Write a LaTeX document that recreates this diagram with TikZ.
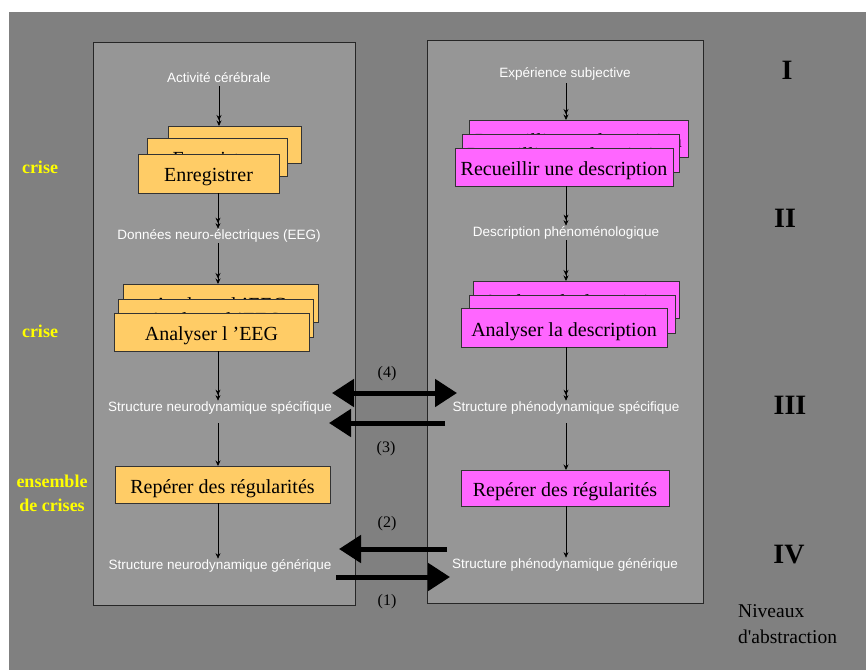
\documentclass[tikz,border=0pt]{standalone}
\usepackage{fontspec}
\setmainfont{Liberation Serif}
\newfontfamily\arialf{Liberation Sans}
\newfontfamily\plainserif{Liberation Serif}[Ligatures=TeXOff]
\usetikzlibrary{arrows.meta}
\definecolor{bgout}{RGB}{128,128,128}
\definecolor{bgpanel}{RGB}{150,150,150}
\definecolor{orangebox}{RGB}{255,204,102}
\definecolor{magbox}{RGB}{255,102,255}
\definecolor{crisey}{RGB}{255,255,0}
\newcommand{\bxt}[1]{\raisebox{-4pt}[\height][\depth]{#1}}
\begin{document}
\begin{tikzpicture}[x=1pt,y=-1pt,
  wlabel/.style={text=white,font=\arialf\fontsize{13.5}{15}\selectfont,inner sep=1pt,outer sep=0pt,yshift=-2pt},
  boxbase/.style={draw=black!80,line width=0.8pt,font=\fontsize{20}{22}\selectfont,inner sep=0pt,outer sep=0pt},
  obox/.style={boxbase,fill=orangebox},
  mbox/.style={boxbase,fill=magbox},
  panel/.style={draw=black!85,line width=0.8pt,fill=bgpanel},
  sarr/.style={line width=0.7pt,-{Stealth[length=5.5pt,width=5pt]Stealth[length=5.5pt,width=5pt]}},
  tarr/.style={line width=0.7pt,-{Stealth[length=5.5pt,width=5pt]}},
  barr/.style={line width=5pt,-{Triangle[length=22pt,width=27pt]}},
  bdarr/.style={line width=5pt,{Triangle[length=22pt,width=27pt]}-{Triangle[length=22pt,width=27pt]}},
  numlbl/.style={font=\fontsize{16}{18}\selectfont,text=black},
  roman/.style={font=\bfseries\fontsize{28}{30}\selectfont,text=black},
  crisel/.style={font=\bfseries\fontsize{18}{20}\selectfont,text=crisey,align=center},
]
\useasboundingbox (0,0) rectangle (866,670);
\fill[white] (0,0) rectangle (866,670);
\fill[bgout] (9,12) rectangle (866,670);
% panels
\draw[panel] (93,42) rectangle (355,605);
\draw[panel] (427,40) rectangle (703,603);

% ---------------- left column
\node[wlabel] (la) at (219,76) {Activité cérébrale};
\node[obox,minimum width=133pt,minimum height=37pt] (encC) at (234.5,144.5) {\bxt{Enregistrer}};
\node[obox,minimum width=140pt,minimum height=38pt] (encB) at (217,157) {\bxt{Enregistrer}};
\node[obox,minimum width=141pt,minimum height=39pt] (encA) at (208.5,173.5) {\bxt{Enregistrer}};
\node[wlabel] (lb) at (219,234) {Données neuro-électriques (EEG)};
\node[obox,minimum width=195pt,minimum height=38pt] (aeC) at (220.5,303) {\bxt{Analyser l ’EEG}};
\node[obox,minimum width=195pt,minimum height=38pt] (aeB) at (215.5,318) {\bxt{Analyser l ’EEG}};
\node[obox,minimum width=195pt,minimum height=38pt] (aeA) at (211.5,332) {\bxt{Analyser l ’EEG}};
\node[wlabel] (lc) at (220,406) {Structure neurodynamique spécifique};
\node[obox,minimum width=215pt,minimum height=37pt] (rl) at (222.5,484.5) {\bxt{Repérer des régularités}};
\node[wlabel] (ld) at (220,564) {Structure neurodynamique générique};

\draw[sarr] (la.south) ++(0,2) coordinate (t1) -- (t1 |- encC.north);
\draw[sarr] (218,0 |- encA.south) -- (218,0 |- lb.north);
\draw[sarr] (218,0 |- lb.south) -- (218,0 |- aeC.north);
\draw[sarr] (218,0 |- aeA.south) -- (218,0 |- lc.north);
\draw[tarr] (218,0 |- lc.south) ++(0,8) -- (218,0 |- rl.north);
\draw[tarr] (218,0 |- rl.south) -- (218,0 |- ld.north);

% ---------------- right column
\node[wlabel] (ra) at (565,72) {Expérience subjective};
\node[mbox,minimum width=219pt,minimum height=37pt] (recC) at (578.5,138.5) {\bxt{Recueillir une description}};
\node[mbox,minimum width=217pt,minimum height=38pt] (recB) at (570.5,153) {\bxt{Recueillir une description}};
\node[mbox,minimum width=218pt,minimum height=38pt] (recA) at (564,167) {\bxt{Recueillir une description}};
\node[wlabel] (rb) at (566,231) {Description phénoménologique};
\node[mbox,minimum width=206pt,minimum height=37pt] (adC) at (576,299.5) {\bxt{Analyser la description}};
\node[mbox,minimum width=206pt,minimum height=38pt] (adB) at (572,314) {\bxt{Analyser la description}};
\node[mbox,minimum width=206pt,minimum height=39pt] (adA) at (564,327.5) {\bxt{Analyser la description}};
\node[wlabel] (rc) at (566,406) {Structure phénodynamique spécifique};
\node[mbox,minimum width=208pt,minimum height=36pt] (rr) at (565,488) {\bxt{Repérer des régularités}};
\node[wlabel] (rd) at (565,563) {Structure phénodynamique générique};

\draw[sarr] (566,0 |- ra.south) ++(0,2) -- (566,0 |- recC.north);
\draw[sarr] (566,0 |- recA.south) -- (566,0 |- rb.north);
\draw[sarr] (566,0 |- rb.south) -- (566,0 |- adC.north);
\draw[sarr] (566,0 |- adA.south) -- (566,0 |- rc.north);
\draw[tarr] (566,0 |- rc.south) ++(0,8) -- (566,0 |- rr.north);
\draw[tarr] (566,0 |- rr.south) -- (566,0 |- rd.north);

% ---------------- big arrows
\coordinate (a4l) at (332,393); \coordinate (a4r) at (457,393);
\coordinate (a3s) at (445,423); \coordinate (a3e) at (329,423);
\coordinate (a2s) at (447,549); \coordinate (a2e) at (339,549);
\coordinate (a1s) at (336,577); \coordinate (a1e) at (450,577);
\draw[bdarr] (a4l) -- (a4r);
\draw[barr] (a3s) -- (a3e);
\draw[barr] (a2s) -- (a2e);
\draw[barr] (a1s) -- (a1e);
\node[numlbl] (n4) at (387,374) {(4)};
\node[numlbl] (n3) at (386,449) {(3)};
\node[numlbl] (n2) at (387,524) {(2)};
\node[numlbl] (n1) at (387,602) {(1)};

% ---------------- side labels
\node[roman] (r1) at (787,70) {I};
\node[roman] (r2) at (785,218) {II};
\node[roman] (r3) at (790,405) {III};
\node[roman] (r4) at (789,555) {IV};
\node[crisel] (c1) at (40,167) {crise};
\node[crisel] (c2) at (40,331) {crise};
\node[crisel,font=\bfseries\fontsize{18}{24}\selectfont] (c3) at (52,493) {ensemble\\de crises};
\node[font=\plainserif\fontsize{19.5}{26}\selectfont,align=left,anchor=north west,inner sep=0pt] (niv) at (738,604) {Niveaux\\d'abstraction};
\end{tikzpicture}
\end{document}
